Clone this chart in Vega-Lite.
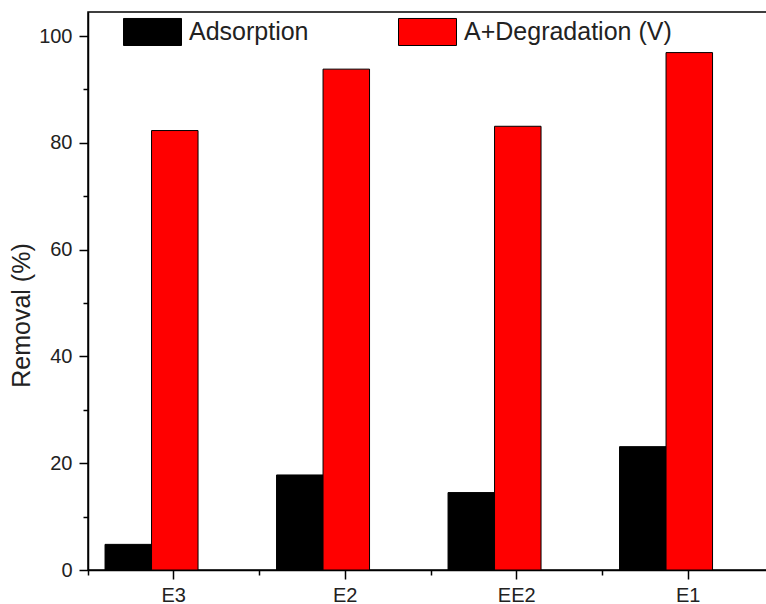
{
  "$schema": "https://vega.github.io/schema/vega-lite/v6.json",
  "width": 686,
  "height": 558,
  "autosize": {"type": "none"},
  "padding": {"left": 88, "top": 12, "right": 0, "bottom": 34},
  "background": "white",
  "config": {
    "view": {"stroke": "black", "strokeWidth": 1.5},
    "font": "Liberation Sans"
  },
  "data": {
    "values": [
      {"sample": "E3", "type": "Adsorption", "removal": 4.8},
      {"sample": "E3", "type": "A+Degradation (V)", "removal": 82.3},
      {"sample": "E2", "type": "Adsorption", "removal": 17.8},
      {"sample": "E2", "type": "A+Degradation (V)", "removal": 93.8},
      {"sample": "EE2", "type": "Adsorption", "removal": 14.5},
      {"sample": "EE2", "type": "A+Degradation (V)", "removal": 83.1},
      {"sample": "E1", "type": "Adsorption", "removal": 23.1},
      {"sample": "E1", "type": "A+Degradation (V)", "removal": 96.9}
    ]
  },
  "layer": [
    {
      "mark": {"type": "bar", "stroke": "black", "strokeWidth": 1},
      "encoding": {
        "x": {
          "field": "sample",
          "type": "nominal",
          "sort": ["E3", "E2", "EE2", "E1"],
          "scale": {"paddingInner": 0, "paddingOuter": 0},
          "axis": {
            "title": null,
            "labelAngle": 0,
            "labelFontSize": 20,
            "labelColor": "#222",
            "labelPadding": 6,
            "tickSize": 9,
            "tickWidth": 1.5,
            "tickColor": "black",
            "domainColor": "black",
            "domainWidth": 1.5,
            "grid": false
          }
        },
        "xOffset": {
          "field": "type",
          "type": "nominal",
          "sort": ["Adsorption", "A+Degradation (V)"],
          "scale": {"paddingInner": 0, "paddingOuter": 0.844, "align": 0.217}
        },
        "y": {
          "field": "removal",
          "type": "quantitative",
          "scale": {"domain": [0, 104.5], "nice": false, "zero": true},
          "axis": {
            "title": "Removal (%)",
            "titleFontSize": 25,
            "titleFontWeight": "normal",
            "titleColor": "#222",
            "titleX": -67,
            "titleY": 303,
            "titleAngle": -90,
            "titleAlign": "center",
            "titleBaseline": "middle",
            "values": [0, 10, 20, 30, 40, 50, 60, 70, 80, 90, 100],
            "labelExpr": "datum.value % 20 == 0 ? datum.label : ''",
            "labelFontSize": 20,
            "labelColor": "#222",
            "labelPadding": 7,
            "tickSize": {"condition": {"test": "datum.value % 20 != 0", "value": 5}, "value": 9},
            "tickWidth": 1.5,
            "tickColor": "black",
            "domainColor": "black",
            "domainWidth": 1.5,
            "grid": false
          }
        },
        "color": {
          "field": "type",
          "type": "nominal",
          "sort": ["Adsorption", "A+Degradation (V)"],
          "scale": {"domain": ["Adsorption", "A+Degradation (V)"], "range": ["#000000", "#ff0000"]},
          "legend": {
            "title": null,
            "orient": "none",
            "direction": "horizontal",
            "legendX": 35,
            "legendY": -10,
            "padding": 0,
            "symbolType": "M-1,-0.466H1V0.466H-1Z",
            "symbolSize": 3364,
            "symbolStrokeColor": "black",
            "symbolStrokeWidth": 1,
            "labelFontSize": 25,
            "labelColor": "#222",
            "labelOffset": 7,
            "labelLimit": 300,
            "columnPadding": 87
          }
        }
      }
    },
    {
      "mark": {"type": "tick", "opacity": 0},
      "encoding": {
        "x": {
          "field": "sample",
          "type": "nominal",
          "sort": ["E3", "E2", "EE2", "E1"],
          "axis": {
            "orient": "bottom",
            "title": null,
            "labels": false,
            "domain": false,
            "bandPosition": 0,
            "tickSize": 5,
            "tickWidth": 1.5,
            "tickColor": "black",
            "grid": false
          }
        }
      }
    }
  ],
  "resolve": {"axis": {"x": "independent"}}
}
